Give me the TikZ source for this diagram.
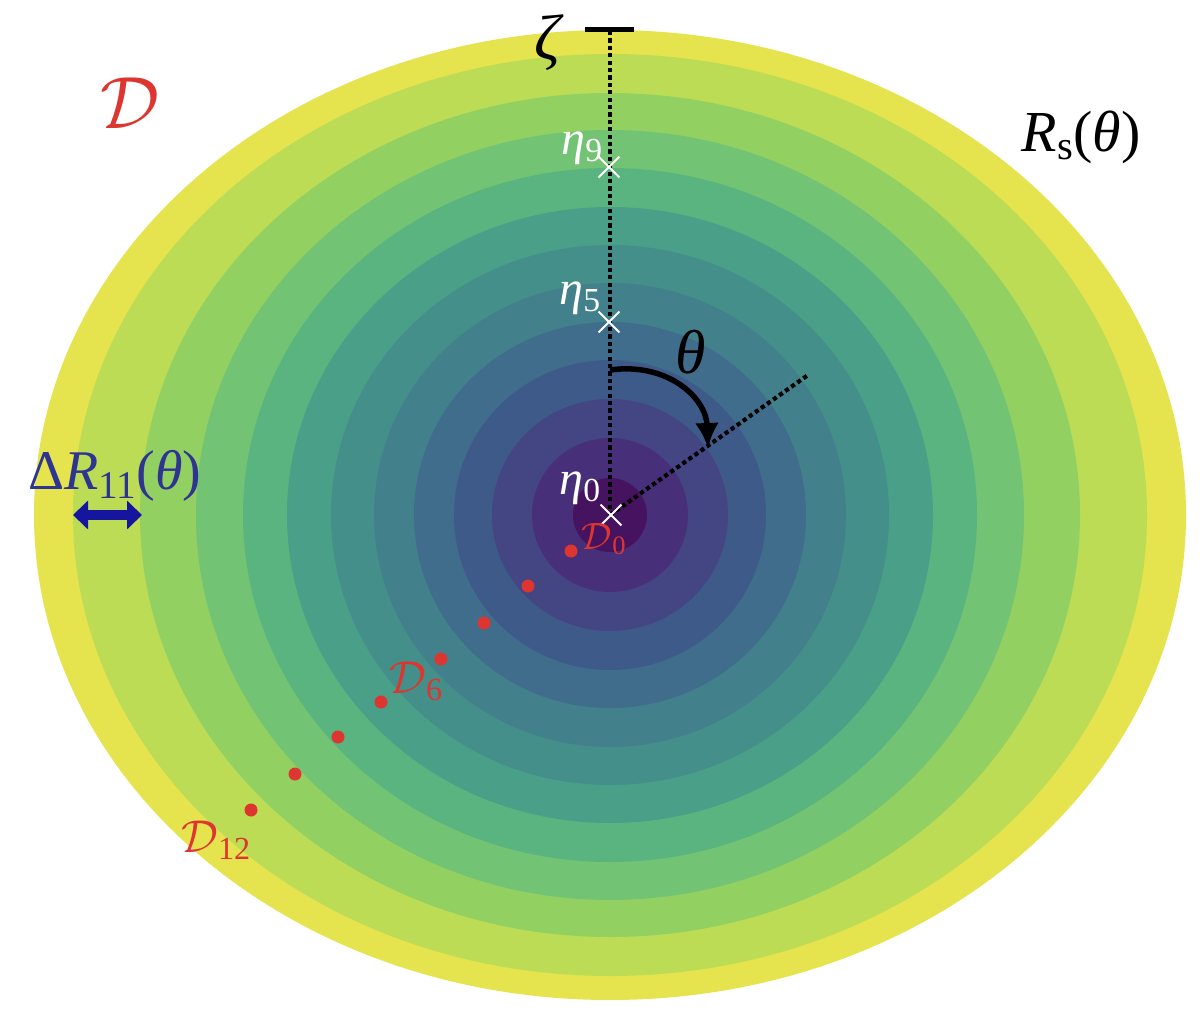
\RequirePackage{fix-cm}
\documentclass[tikz,border=0pt]{standalone}
\usepackage{fontspec}
\setmainfont{Liberation Serif}
\usetikzlibrary{arrows.meta,shapes.misc}
\definecolor{c1}{HTML}{45135F}
\definecolor{c2}{HTML}{472F7A}
\definecolor{c3}{HTML}{434683}
\definecolor{c4}{HTML}{3E5A89}
\definecolor{c5}{HTML}{3F6D8B}
\definecolor{c6}{HTML}{42808B}
\definecolor{c7}{HTML}{458F8A}
\definecolor{c8}{HTML}{4A9F88}
\definecolor{c9}{HTML}{5AB47F}
\definecolor{c10}{HTML}{72C373}
\definecolor{c11}{HTML}{93D062}
\definecolor{c12}{HTML}{BCDC55}
\definecolor{c13}{HTML}{E5E34E}
\definecolor{dred}{HTML}{DD3630}
\definecolor{navytxt}{HTML}{2E3590}
\definecolor{navyarr}{HTML}{15159E}
\newcommand{\sbs}[1]{\textsubscript{#1}}
\tikzset{
  dotline/.style={black, line width=4.2pt, dash pattern=on 4.2pt off 3.2pt},
  xmark/.style={cross out, draw=white, line width=1.8pt, minimum size=19pt, inner sep=0pt},
  reddot/.style={circle, fill=dred, minimum size=13pt, inner sep=0pt},
  lbl/.style={inner sep=0pt},
}
\begin{document}
\begin{tikzpicture}[x=1pt,y=-1pt]
\useasboundingbox (0,0) rectangle (1200,1024);
\fill[white] (0,0) rectangle (1200,1024);
\coordinate (O) at (610,515);
% contour bands
\foreach \a/\b/\c in {576/485/c13, 537/461/c12, 470/422/c11, 414/385/c10, 367/347/c9, 323/308/c8, 279/270/c7, 236/232/c6, 196/193/c5, 156/155/c4, 118/116/c3, 78/77/c2, 37/37/c1}
  \fill[\c] (O) ellipse [x radius=\a, y radius=\b];
% zeta bar and dotted radius
\coordinate (barL) at (585,30);
\coordinate (barR) at (634,30);
\coordinate (top) at (610,31);
\coordinate (ray) at (808,375);
\draw[line width=5pt] (barL) -- (barR);
\draw[dotline] (top) -- (O);
\draw[dotline] (O) -- (ray);
% theta arc
\coordinate (arcS) at (610,370);
\coordinate (arcE) at (708,448);
\draw[line width=5.5pt, -{Latex[length=25pt,width=24pt]}] (arcS) .. controls (668,362) and (706,398) .. (arcE);
% eta crosses
\node[xmark] (x9) at (609,167) {};
\node[xmark] (x5) at (609,322) {};
\node[xmark] (x0) at (611,515) {};
% labels
\node[lbl, text=dred] (Dbig) at (130,103) {\fontsize{74}{74}\selectfont$\mathcal{D}$};
\node[lbl] (zeta) at (547,43) {\fontsize{64}{64}\selectfont\itshape ζ};
\node[lbl, text=white] (e9) at (582,148) {\fontsize{48}{48}\selectfont{\itshape η}\sbs{9}};
\node[lbl, text=white] (e5) at (580,298) {\fontsize{48}{48}\selectfont{\itshape η}\sbs{5}};
\node[lbl, text=white] (e0) at (580,488) {\fontsize{48}{48}\selectfont{\itshape η}\sbs{0}};
\node[lbl] (th) at (691,352) {\fontsize{62}{62}\selectfont\itshape θ};
\node[lbl] (Rs) at (1081,137) {\fontsize{58}{58}\selectfont{\itshape R}\sbs{s}({\itshape θ})};
\node[lbl, text=navytxt] (dR) at (115,476) {\fontsize{56}{56}\selectfont Δ{\itshape R}\sbs{11}({\itshape θ})};
\node[lbl, text=dred] (D0) at (604,539) {\fontsize{38}{38}\selectfont$\mathcal{D}$\sbs{0}};
\node[lbl, text=dred] (D6) at (416,681) {\fontsize{46}{46}\selectfont$\mathcal{D}$\sbs{6}};
\node[lbl, text=dred] (D12) at (216,840) {\fontsize{46}{46}\selectfont$\mathcal{D}$\sbs{12}};
% delta R arrow
\coordinate (dl) at (73,515);
\coordinate (dr) at (142,515);
\draw[navyarr, line width=10pt, {Triangle[length=15pt,width=28pt]}-{Triangle[length=15pt,width=28pt]}] (dl) -- (dr);
% red dots
\node[reddot] (p1) at (571,551) {};
\node[reddot] (p2) at (528,586) {};
\node[reddot] (p3) at (484,623) {};
\node[reddot] (p4) at (441,659) {};
\node[reddot] (p5) at (381,702) {};
\node[reddot] (p6) at (338,737) {};
\node[reddot] (p7) at (295,774) {};
\node[reddot] (p8) at (251,810) {};
\end{tikzpicture}
\end{document}
